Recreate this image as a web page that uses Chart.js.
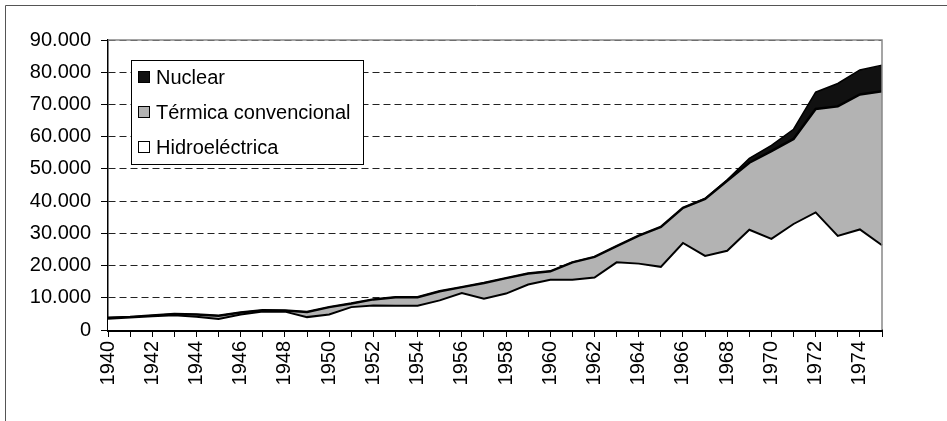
<!DOCTYPE html>
<html>
<head>
<meta charset="utf-8">
<script src="https://cdn.jsdelivr.net/npm/chart.js@4.4.0/dist/chart.umd.min.js"></script>
<style>
  html, body { margin: 0; padding: 0; background: #fff; }
  #wrap { position: relative; width: 947px; height: 421px; }
</style>
</head>
<body>
<div id="wrap"><canvas id="chart"></canvas></div>
<script>
// years on the x axis
const years = [];
for (let y = 1940; y <= 1975; y++) years.push(String(y));

// production per source
const hidroelectrica = [3500, 3900, 4300, 4600, 4100, 3400, 4800, 5700, 5700, 4000,
  4800, 7100, 7600, 7500, 7500, 9200, 11500, 9700, 11300, 14100,
  15600, 15600, 16300, 21000, 20600, 19600, 27000, 23000, 24600, 31100,
  28300, 32900, 36500, 29200, 31200, 26300];
const termica = [300, 150, 200, 400, 700, 1000, 600, 400, 350, 1600,
  2300, 1100, 1900, 2700, 2700, 2800, 1800, 4900, 4800, 3400,
  2600, 5400, 6400, 5000, 8700, 12400, 10900, 17700, 21700, 20800,
  27200, 26400, 32100, 40200, 41900, 47800];
const nuclear = [0, 0, 0, 0, 0, 0, 0, 0, 0, 0,
  0, 0, 0, 0, 0, 0, 0, 0, 0, 0,
  0, 0, 0, 0, 0, 0, 0, 100, 300, 1400,
  1800, 3000, 5200, 7100, 7600, 8100];

const yTicks = [0, 10000, 20000, 30000, 40000, 50000, 60000, 70000, 80000, 90000];

const FONT = { family: "'Liberation Sans', Arial, sans-serif", size: 20 };

function fmt(v) {
  return String(v).replace(/\B(?=(\d{3})+(?!\d))/g, '.');
}

// frame, plot border and the boxed legend inside the plot
const extras = {
  id: 'extras',
  beforeDraw(chart) {
    const ctx = chart.ctx;
    ctx.save();
    ctx.strokeStyle = '#555';
    ctx.lineWidth = 1;
    ctx.beginPath();
    ctx.moveTo(5.5, 421);
    ctx.lineTo(5.5, 5.5);
    ctx.lineTo(947, 5.5);
    ctx.stroke();
    ctx.restore();
  },
  afterDraw(chart) {
    const ctx = chart.ctx;
    const a = chart.chartArea;
    ctx.save();
    // plot border top + right
    ctx.strokeStyle = '#888';
    ctx.lineWidth = 1.5;
    ctx.beginPath();
    ctx.moveTo(a.left, a.top);
    ctx.lineTo(a.right, a.top);
    ctx.lineTo(a.right, a.bottom);
    ctx.stroke();

    // legend
    const bx = 131, by = 60, bw = 232, bh = 104;
    ctx.fillStyle = '#fff';
    ctx.fillRect(bx, by, bw, bh);
    ctx.strokeStyle = '#000';
    ctx.lineWidth = 1;
    ctx.strokeRect(bx + 0.5, by + 0.5, bw, bh);
    ctx.font = FONT.size + 'px ' + FONT.family;
    ctx.textBaseline = 'middle';
    const ds = chart.data.datasets.slice().reverse();
    ds.forEach((d, i) => {
      const cy = 77 + i * 35;
      ctx.fillStyle = d.backgroundColor;
      ctx.fillRect(138, cy - 6, 12, 12);
      ctx.strokeStyle = '#000';
      ctx.strokeRect(138.5, cy - 5.5, 11, 11);
      ctx.fillStyle = '#000';
      ctx.fillText(d.label, 156, cy + 1);
    });
    ctx.restore();
  }
};

new Chart('chart', {
  type: 'line',
  data: {
    labels: years,
    datasets: [
      {
        label: 'Hidroeléctrica',
        data: hidroelectrica,
        backgroundColor: '#ffffff',
        borderColor: '#000',
        borderWidth: 2,
        fill: 'origin'
      },
      {
        label: 'Térmica convencional',
        data: termica,
        backgroundColor: '#b3b3b3',
        borderColor: '#000',
        borderWidth: 2.5,
        fill: '-1'
      },
      {
        label: 'Nuclear',
        data: nuclear,
        backgroundColor: '#111111',
        borderColor: '#000',
        borderWidth: 1.5,
        fill: '-1'
      }
    ]
  },
  options: {
    responsive: true,
    maintainAspectRatio: false,
    animation: false,
    layout: { padding: { left: 0, top: 40, right: 65, bottom: 0 } },
    elements: { point: { radius: 0 }, line: { tension: 0 } },
    plugins: {
      legend: { display: false },
      tooltip: { enabled: false }
    },
    scales: {
      x: {
        offset: false,
        afterFit: s => { s.height = 91; },
        grid: {
          offset: false,
          drawOnChartArea: false,
          drawTicks: true,
          tickLength: 7,
          color: '#000',
          lineWidth: 1
        },
        border: { color: '#000', width: 3 },
        ticks: {
          autoSkip: false,
          minRotation: 90,
          maxRotation: 90,
          padding: 4,
          color: '#000',
          font: FONT,
          callback: function (v, i) { return i % 2 === 0 ? years[i] : ''; }
        }
      },
      y: {
        stacked: true,
        min: 0,
        max: 90000,
        afterFit: s => { s.width = 108; },
        afterBuildTicks: s => { s.ticks = yTicks.map(v => ({ value: v })); },
        grid: {
          color: '#222',
          lineWidth: 1,
          drawTicks: true,
          tickLength: 7,
          tickColor: '#000'
        },
        border: { color: '#000', width: 1.5, dash: [7, 4] },
        ticks: {
          padding: 10,
          color: '#000',
          font: FONT,
          callback: v => fmt(v)
        }
      }
    }
  },
  plugins: [extras]
});
</script>
</body>
</html>
